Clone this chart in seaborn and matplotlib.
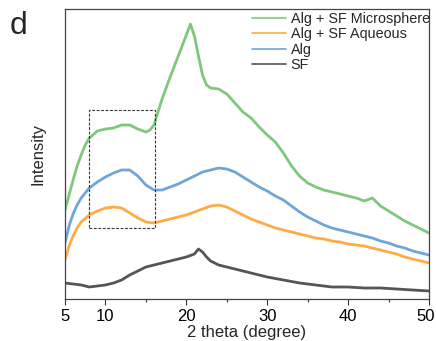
import matplotlib
matplotlib.use("Agg")
import matplotlib.pyplot as plt
import matplotlib.transforms as mtransforms
import seaborn as sns
import pandas as pd
from matplotlib.patches import Rectangle
from matplotlib.ticker import MultipleLocator, NullLocator

sns.set_style("ticks")
plt.rcParams['font.family'] = ['Liberation Sans', 'DejaVu Sans']

# Data (arbitrary intensity units)
x_micro = [5, 5.5, 6, 6.5, 7, 7.5, 8, 9, 10, 11, 12, 13, 14, 15, 15.5, 16, 16.5, 17, 18, 19, 20, 20.5,
           21, 21.5, 22, 22.5, 23, 24, 25, 26, 27, 28, 29, 30, 31, 32, 33, 34, 35, 36, 37, 38, 39, 40,
           41, 42, 43, 43.5, 44, 45, 46, 47, 48, 49, 50]
y_micro = [210, 195, 180, 166, 155, 145, 138, 131, 129, 128, 125, 125, 129, 132, 130, 125, 112, 99, 77, 56, 35, 24,
           36, 56, 75, 85, 88, 89, 94, 103, 112, 118, 127, 135, 142, 153, 166, 176, 183, 187, 190, 192, 194, 196,
           198, 201, 198, 202, 206, 211, 216, 221, 225, 229, 233]

x_std = [5, 5.5, 6, 6.5, 7, 8, 9, 10, 11, 12, 13, 14, 15, 16, 17, 18, 19, 20, 21, 22, 23, 24, 25,
         26, 27, 28, 29, 30, 31, 32, 33, 34, 35, 36, 37, 38, 39, 40, 41, 42, 43, 44, 45, 46, 47, 48, 49, 50]
y_alg = [243, 226, 214, 205, 198, 188, 182, 177, 173, 170, 170, 176, 185, 190, 190, 187, 184, 180, 176, 172,
         170, 168, 169, 172, 177, 182, 187, 191, 196, 200, 206, 212, 217, 221, 225, 228, 230, 232, 234, 236,
         238, 241, 243, 246, 248, 251, 253, 255]
y_aq = [260, 246, 236, 228, 222, 215, 211, 208, 207, 208, 213, 218, 222, 223, 221, 219, 217, 215, 212, 209,
        206, 205, 207, 211, 215, 219, 222, 225, 228, 230, 232, 234, 236, 238, 239, 241, 242, 244, 245, 246,
        248, 250, 252, 254, 257, 259, 261, 263]

x_sf = [5, 6, 7, 8, 9, 10, 11, 12, 13, 14, 15, 16, 17, 18, 19, 20, 21, 21.5, 22, 22.5, 23, 24, 25, 26,
        27, 28, 29, 30, 32, 34, 36, 38, 40, 42, 44, 46, 48, 50]
y_sf = [283, 284, 285, 287, 286, 285, 283, 280, 275, 271, 267, 265, 263, 261, 259, 257, 254, 249, 252, 257,
        261, 265, 267, 269, 271, 273, 275, 277, 280, 283, 285, 287, 287, 288, 288, 289, 290, 291]

labels = ["Alg + SF Microsphere", "Alg + SF Aqueous", "Alg", "SF"]
colors = ["#7dc87a", "#ffab45", "#6fa5d8", "#555555"]
x_ticks = [5, 10, 20, 30, 40, 50]

# Highlighted region (dashed box)
box_x = (8.0, 16.1)
box_y_px = (110, 228)

TOP = 299  # pixel-to-intensity reference


def to_int(vals):
    return [TOP - v for v in vals]


frames = [
    pd.DataFrame({"x": x_micro, "y": to_int(y_micro), "s": labels[0]}),
    pd.DataFrame({"x": x_std, "y": to_int(y_aq), "s": labels[1]}),
    pd.DataFrame({"x": x_std, "y": to_int(y_alg), "s": labels[2]}),
    pd.DataFrame({"x": x_sf, "y": to_int(y_sf), "s": labels[3]}),
]
df = pd.concat(frames, ignore_index=True)

fig = plt.figure(figsize=(4.36, 3.41), dpi=100)
ax = fig.add_axes([65 / 436, 1 - 299 / 341, (429 - 65) / 436, (299 - 9) / 341])

for lab, col in zip(labels, colors):
    sns.lineplot(data=df[df["s"] == lab], x="x", y="y", color=col, lw=2.0, ax=ax, label=lab)

ax.add_patch(Rectangle((box_x[0], TOP - box_y_px[1]), box_x[1] - box_x[0], box_y_px[1] - box_y_px[0],
                       fill=False, ls=(0, (2.5, 1.5)), lw=0.8, ec="#333333", zorder=5))

ax.set_xlim(5, 50)
ax.set_ylim(0, 290)
ax.xaxis.set_minor_locator(MultipleLocator(5))
ax.set_xticks(x_ticks)
ax.yaxis.set_major_locator(NullLocator())
ax.tick_params(axis="x", which="major", length=4, width=0.8, labelsize=12, colors="#333333", labelcolor="black", pad=3)
ax.tick_params(axis="x", which="minor", length=2.5, width=0.8, colors="#333333")
for sp in ax.spines.values():
    sp.set_visible(True)
    sp.set_color("#444444")
    sp.set_linewidth(0.9)
ax.set_xlabel("2 theta (degree)", fontsize=12, labelpad=1)
ax.set_ylabel("Intensity", fontsize=12, labelpad=14)

# nudge the last tick label so it stays inside the canvas
last = ax.get_xticklabels()[-1]
last.set_transform(last.get_transform() + mtransforms.ScaledTranslation(-3 / 100, 0, fig.dpi_scale_trans))

leg = ax.legend(loc="upper right", frameon=False, fontsize=10.4, handlelength=2.4,
                handletextpad=0.3, labelspacing=0.1, borderaxespad=0.1, borderpad=0.1,
                bbox_to_anchor=(1.01, 1.0))
for h in leg.get_lines():
    h.set_linewidth(1.2)

fig.text(10 / 436, 1 - 34 / 341, "d", fontsize=23)

fig.savefig("out.png", dpi=100)
